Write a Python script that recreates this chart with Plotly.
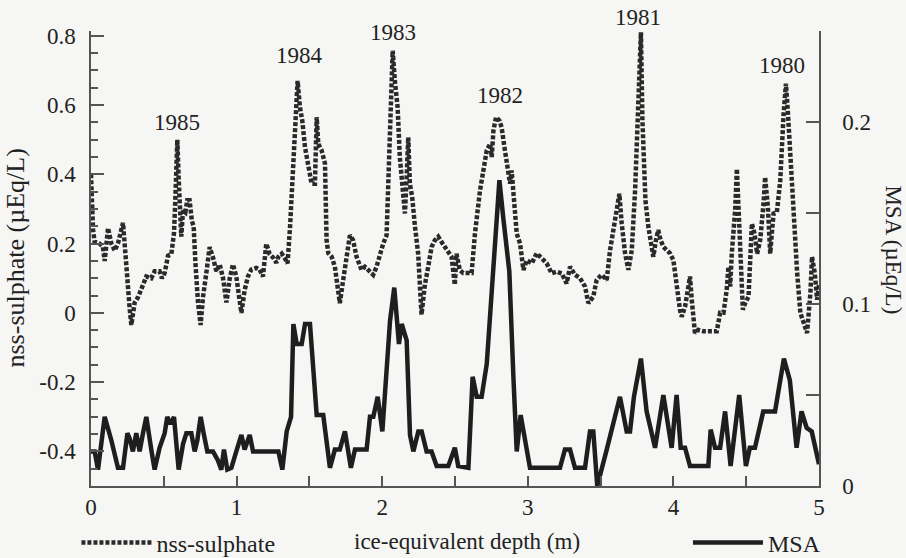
import plotly.graph_objects as go

# ---- data ----
depth_s = [0.0, 0.005, 0.014, 0.025, 0.06, 0.082, 0.094, 0.117, 0.14, 0.163, 0.185, 0.22, 0.231, 0.25, 0.266, 0.277,
           0.30, 0.323, 0.357, 0.38, 0.414, 0.437, 0.471, 0.487, 0.506, 0.529, 0.552, 0.57, 0.579, 0.593, 0.602,
           0.609, 0.62, 0.632, 0.648, 0.661, 0.677, 0.693, 0.705, 0.717, 0.735, 0.753, 0.769, 0.792, 0.815, 0.838,
           0.861, 0.884, 0.907, 0.93, 0.953, 0.975, 0.998, 1.021, 1.033, 1.055, 1.078, 1.101, 1.135, 1.158, 1.181,
           1.204, 1.227, 1.25, 1.273, 1.287, 1.31, 1.332, 1.35, 1.367, 1.39, 1.406, 1.419, 1.435, 1.451, 1.47,
           1.492, 1.515, 1.538, 1.55, 1.561, 1.584, 1.607, 1.618, 1.63, 1.653, 1.675, 1.698, 1.709, 1.732, 1.756,
           1.778, 1.8, 1.824, 1.858, 1.881, 1.904, 1.938, 1.961, 1.984, 2.007, 2.03, 2.042, 2.053, 2.072, 2.087,
           2.106, 2.121, 2.14, 2.156, 2.167, 2.179, 2.19, 2.206, 2.225, 2.247, 2.27, 2.293, 2.316, 2.339, 2.362,
           2.385, 2.407, 2.43, 2.453, 2.476, 2.499, 2.51, 2.533, 2.556, 2.614, 2.637, 2.672, 2.695, 2.718, 2.741,
           2.752, 2.764, 2.782, 2.805, 2.82, 2.843, 2.866, 2.878, 2.889, 2.901, 2.924, 2.947, 2.97, 2.993, 3.027,
           3.061, 3.096, 3.13, 3.164, 3.199, 3.233, 3.267, 3.29, 3.324, 3.359, 3.393, 3.416, 3.45, 3.473, 3.507,
           3.542, 3.565, 3.599, 3.629, 3.645, 3.668, 3.691, 3.714, 3.737, 3.755, 3.767, 3.777, 3.787, 3.797,
           3.808, 3.828, 3.851, 3.862, 3.88, 3.896, 3.912, 3.931, 3.954, 3.977, 4.0, 4.022, 4.045, 4.057, 4.08,
           4.103, 4.114, 4.126, 4.148, 4.171, 4.206, 4.298, 4.321, 4.344, 4.366, 4.378, 4.39, 4.401, 4.424,
           4.436, 4.447, 4.459, 4.477, 4.493, 4.516, 4.539, 4.557, 4.575, 4.596, 4.619, 4.63, 4.649, 4.665,
           4.676, 4.688, 4.711, 4.734, 4.757, 4.773, 4.787, 4.804, 4.827, 4.85, 4.872, 4.895, 4.918, 4.941,
           4.952, 4.971, 4.987, 5.0]
sulphate = [0.40, 0.33, 0.24, 0.205, 0.20, 0.19, 0.15, 0.245, 0.20, 0.18, 0.20, 0.26, 0.19, 0.07, 0.01, -0.035,
            0.03, 0.045, 0.085, 0.105, 0.10, 0.12, 0.12, 0.10, 0.115, 0.165, 0.17, 0.23, 0.325, 0.50, 0.39,
            0.325, 0.22, 0.295, 0.29, 0.325, 0.325, 0.265, 0.25, 0.145, 0.03, -0.035, 0.045, 0.115, 0.19, 0.16,
            0.12, 0.14, 0.10, 0.03, 0.10, 0.14, 0.105, 0.035, 0.0, 0.065, 0.105, 0.125, 0.13, 0.125, 0.105,
            0.20, 0.17, 0.16, 0.145, 0.162, 0.171, 0.157, 0.143, 0.248, 0.45, 0.565, 0.67, 0.594, 0.555, 0.478,
            0.421, 0.373, 0.373, 0.565, 0.488, 0.469, 0.431, 0.21, 0.172, 0.162, 0.133, 0.066, 0.028, 0.095, 0.171,
            0.224, 0.21, 0.162, 0.124, 0.133, 0.124, 0.11, 0.133, 0.171, 0.2, 0.224, 0.387, 0.578, 0.757, 0.67,
            0.594, 0.45, 0.354, 0.287, 0.383, 0.507, 0.373, 0.335, 0.249, 0.171, -0.005, 0.081, 0.133, 0.19, 0.21,
            0.22, 0.205, 0.19, 0.18, 0.162, 0.081, 0.171, 0.124, 0.115, 0.115, 0.229, 0.354, 0.421, 0.469, 0.488,
            0.45, 0.527, 0.565, 0.555, 0.536, 0.469, 0.402, 0.373, 0.411, 0.354, 0.229, 0.2, 0.124, 0.152, 0.143,
            0.172, 0.158, 0.143, 0.114, 0.119, 0.114, 0.085, 0.133, 0.11, 0.1, 0.076, 0.028, 0.047, 0.095, 0.11,
            0.095, 0.181, 0.268, 0.344, 0.258, 0.172, 0.124, 0.181, 0.354, 0.546, 0.64, 0.81, 0.56, 0.42,
            0.325, 0.248, 0.191, 0.162, 0.21, 0.239, 0.21, 0.191, 0.181, 0.172, 0.152, 0.076, 0.009, -0.011, 0.018,
            0.076, 0.105, 0.038, -0.058, -0.049, -0.053, -0.053, 0.0, 0.0, 0.066, 0.133, 0.076, 0.171, 0.296,
            0.416, 0.287, 0.171, 0.009, 0.028, 0.047, 0.258, 0.229, 0.171, 0.21, 0.315, 0.392, 0.306, 0.171,
            0.229, 0.287, 0.291, 0.383, 0.575, 0.662, 0.575, 0.441, 0.287, 0.115, 0.0, -0.03, -0.058, 0.057,
            0.162, 0.115, 0.038, 0.08]

depth_m = [0.0, 0.025, 0.048, 0.094, 0.14, 0.185, 0.22, 0.25, 0.266, 0.288, 0.311, 0.334, 0.357, 0.38, 0.414,
           0.437, 0.471, 0.506, 0.524, 0.547, 0.57, 0.586, 0.602, 0.632, 0.655, 0.689, 0.712, 0.73, 0.753, 0.776,
           0.799, 0.838, 0.872, 0.895, 0.913, 0.936, 0.964, 0.998, 1.033, 1.055, 1.09, 1.113, 1.287, 1.314, 1.344,
           1.374, 1.39, 1.413, 1.447, 1.47, 1.504, 1.55, 1.595, 1.641, 1.675, 1.709, 1.744, 1.785, 1.813, 1.893,
           1.916, 1.939, 1.969, 2.001, 2.054, 2.083, 2.115, 2.134, 2.168, 2.191, 2.214, 2.248, 2.271, 2.305, 2.339,
           2.374, 2.454, 2.499, 2.522, 2.592, 2.621, 2.649, 2.683, 2.718, 2.752, 2.782, 2.805, 2.832, 2.873, 2.901,
           2.924, 2.951, 2.98, 3.015, 3.221, 3.255, 3.29, 3.324, 3.393, 3.427, 3.45, 3.477, 3.542, 3.633, 3.679,
           3.702, 3.729, 3.777, 3.816, 3.874, 3.931, 3.988, 4.022, 4.05, 4.08, 4.114, 4.24, 4.256, 4.286, 4.321,
           4.355, 4.393, 4.452, 4.498, 4.525, 4.56, 4.617, 4.698, 4.759, 4.8, 4.846, 4.88, 4.915, 4.95, 5.0]
msa = [0.019, 0.019, 0.009, 0.038, 0.025, 0.01, 0.01, 0.029, 0.026, 0.019, 0.029, 0.019, 0.029, 0.038, 0.02,
       0.009, 0.021, 0.029, 0.038, 0.034, 0.038, 0.023, 0.009, 0.023, 0.029, 0.029, 0.019, 0.025, 0.038, 0.028,
       0.019, 0.019, 0.014, 0.009, 0.02, 0.009, 0.01, 0.019, 0.028, 0.02, 0.028, 0.019, 0.019, 0.009, 0.030,
       0.038, 0.089, 0.078, 0.078, 0.089, 0.089, 0.039, 0.039, 0.01, 0.02, 0.02, 0.03, 0.01, 0.02, 0.02,
       0.038, 0.038, 0.049, 0.03, 0.091, 0.109, 0.078, 0.089, 0.08, 0.028, 0.019, 0.03, 0.03, 0.019, 0.019,
       0.011, 0.011, 0.021, 0.011, 0.01, 0.06, 0.049, 0.049, 0.067, 0.107, 0.147, 0.168, 0.147, 0.118, 0.06,
       0.019, 0.039, 0.027, 0.01, 0.01, 0.02, 0.02, 0.01, 0.01, 0.03, 0.03, 0.0, 0.02, 0.049, 0.03,
       0.03, 0.049, 0.07, 0.041, 0.021, 0.05, 0.021, 0.05, 0.021, 0.021, 0.011, 0.011, 0.031, 0.021, 0.021,
       0.041, 0.011, 0.05, 0.011, 0.021, 0.021, 0.041, 0.041, 0.07, 0.058, 0.021, 0.041, 0.032, 0.03, 0.012]

year_labels = ["1985", "1984", "1983", "1982", "1981", "1980"]
year_x = [0.59, 1.435, 2.075, 2.81, 3.757, 4.746]
year_y = [0.55, 0.742, 0.81, 0.627, 0.852, 0.714]

x_tickvals = [0, 0.5, 1, 1.5, 2, 2.5, 3, 3.5, 4, 4.5, 5]
x_ticktext = ["0", "", "1", "", "2", "", "3", "", "4", "", "5"]
y_tickvals = [-0.4, -0.2, 0, 0.2, 0.4, 0.6, 0.8]
y_ticktext = ["-0.4", "-0.2", "0", "0.2", "0.4", "0.6", "0.8"]
y2_tickvals = [0, 0.05, 0.1, 0.15, 0.2, 0.25]
y2_ticktext = ["0", "", "0.1", "", "0.2", ""]

Y_RANGE = [-0.5, 0.814]
PLOT_H = 558 - 31 - 72

FONT = "Liberation Serif, Times New Roman, serif"
INK = "#222222"
BG = "#f6f6f4"
AX = "#555555"

fig = go.Figure()
fig.add_trace(go.Scatter(x=depth_s, y=sulphate, mode="lines", name="nss-sulphate",
                         line=dict(color="#2a2a2a", width=4.5, dash="4px,2px"),
                         legend="legend"))
fig.add_trace(go.Scatter(x=depth_m, y=msa, mode="lines", name="MSA", yaxis="y2",
                         line=dict(color="#1e1e1e", width=4.5),
                         legend="legend2"))

px_per_unit = PLOT_H / (Y_RANGE[1] - Y_RANGE[0])
for t, xx, yy in zip(year_labels, year_x, year_y):
    yin = min(yy, Y_RANGE[1] - 0.005)
    fig.add_annotation(x=xx, y=yin, xref="x", yref="y", text=t, showarrow=False,
                       yshift=(yy - yin) * px_per_unit,
                       font=dict(family=FONT, size=23, color=INK))

fig.add_annotation(x=0, xref="paper", y=0.5, yref="paper", xshift=-76, text="nss-sulphate (µEq/L)",
                   textangle=-90, showarrow=False, xanchor="center", yanchor="middle",
                   font=dict(family=FONT, size=26, color=INK))
fig.add_annotation(x=1, xref="paper", y=0.52, yref="paper", xshift=75, text="MSA (µEq/L)",
                   textangle=90, showarrow=False, xanchor="center", yanchor="middle",
                   font=dict(family=FONT, size=23, color=INK))
fig.add_annotation(x=0.516, xref="paper", y=0, yref="paper", yshift=-55, text="ice-equivalent depth (m)",
                   showarrow=False, xanchor="center", yanchor="middle",
                   font=dict(family=FONT, size=23, color=INK))

axis_common = dict(showgrid=False, zeroline=False, showline=True, linecolor=AX, linewidth=1.5,
                   ticks="inside", tickcolor=AX, tickwidth=1.5,
                   tickfont=dict(family=FONT, size=23, color=INK))

fig.update_layout(
    width=906, height=558,
    margin=dict(l=91, r=87, t=31, b=72, autoexpand=False),
    paper_bgcolor=BG, plot_bgcolor=BG,
    xaxis=dict(range=[0, 5], tickmode="array", tickvals=x_tickvals, ticktext=x_ticktext,
               ticklen=10, **axis_common),
    yaxis=dict(range=Y_RANGE, tickmode="array", tickvals=y_tickvals, ticktext=y_ticktext,
               ticklen=13, ticklabelstandoff=9,
               minor=dict(dtick=0.05, ticks="inside", ticklen=7, tickcolor=AX, tickwidth=1.5),
               **axis_common),
    yaxis2=dict(range=[0, 0.25], overlaying="y", side="right", tickmode="array", tickvals=y2_tickvals,
                ticktext=y2_ticktext, ticklen=13, ticklabelstandoff=17, **axis_common),
    showlegend=True,
    legend=dict(x=-0.02, xanchor="left", y=-0.125, yanchor="middle", orientation="h",
                itemwidth=70, bgcolor="rgba(0,0,0,0)", font=dict(family=FONT, size=24, color=INK)),
    legend2=dict(x=0.82, xanchor="left", y=-0.125, yanchor="middle", orientation="h",
                 itemwidth=70, bgcolor="rgba(0,0,0,0)", font=dict(family=FONT, size=24, color=INK)),
)

fig.write_html("out.html")
